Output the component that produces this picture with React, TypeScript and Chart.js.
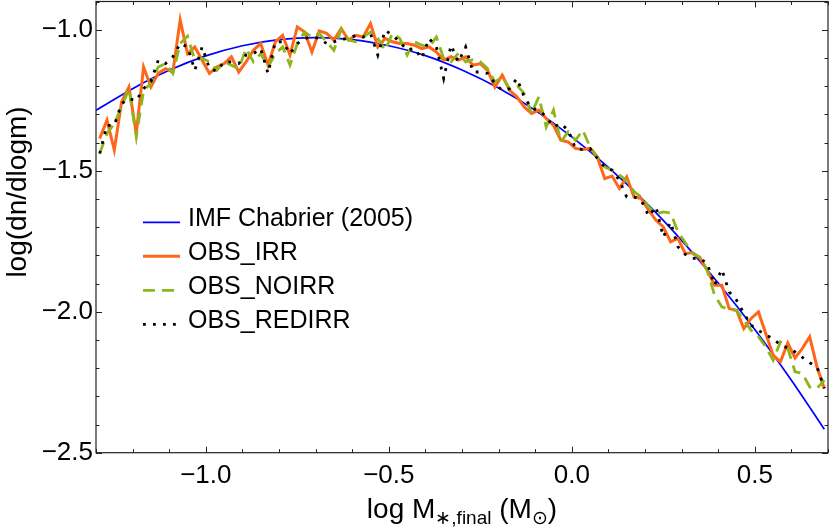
import React, { useEffect, useRef } from 'react';
import { Chart, registerables } from 'chart.js';

Chart.register(...registerables);

const FONT = '"Liberation Sans", Arial, Helvetica, sans-serif';

// bin centres of log M*,final
const massBins = [
  -1.29, -1.27, -1.25, -1.23, -1.21, -1.19, -1.17, -1.15, -1.13, -1.11,
  -1.09, -1.07, -1.05, -1.03, -1.01, -0.99, -0.97, -0.95, -0.93, -0.91,
  -0.89, -0.87, -0.85, -0.83, -0.81, -0.79, -0.77, -0.75, -0.73, -0.71,
  -0.69, -0.67, -0.65, -0.63, -0.61, -0.59, -0.57, -0.55, -0.53, -0.51,
  -0.49, -0.47, -0.45, -0.43, -0.41, -0.39, -0.37, -0.35, -0.33, -0.31,
  -0.29, -0.27, -0.25, -0.23, -0.21, -0.19, -0.17, -0.15, -0.13, -0.11,
  -0.09, -0.07, -0.05, -0.03, -0.01, 0.01, 0.03, 0.05, 0.07, 0.09,
  0.11, 0.13, 0.15, 0.17, 0.19, 0.21, 0.23, 0.25, 0.27, 0.29,
  0.31, 0.33, 0.35, 0.37, 0.39, 0.41, 0.43, 0.45, 0.47, 0.49,
  0.51, 0.53, 0.55, 0.57, 0.59, 0.61, 0.63, 0.65, 0.67, 0.69,
];

const obsIrr = [
  -1.386, -1.321, -1.427, -1.256, -1.203, -1.368, -1.132, -1.203, -1.155, -1.138,
  -1.150, -0.966, -1.085, -1.061, -1.108, -1.155, -1.132, -1.120, -1.096, -1.150,
  -1.114, -1.073, -1.049, -1.126, -1.043, -1.020, -1.090, -0.990, -1.008, -1.079,
  -1.004, -1.013, -1.037, -0.996, -1.037, -1.020, -1.026, -0.978, -1.061, -1.031,
  -1.043, -1.049, -1.049, -1.055, -1.067, -1.061, -1.079, -1.108, -1.096, -1.108,
  -1.096, -1.126, -1.120, -1.144, -1.203, -1.161, -1.215, -1.238, -1.274, -1.297,
  -1.285, -1.315, -1.339, -1.392, -1.398, -1.421, -1.425, -1.421, -1.453, -1.528,
  -1.519, -1.563, -1.522, -1.593, -1.599, -1.640, -1.676, -1.699, -1.752, -1.740,
  -1.794, -1.790, -1.810, -1.853, -1.906, -1.906, -1.989, -1.995, -2.060, -2.024,
  -2.001, -2.077, -2.154, -2.178, -2.111, -2.164, -2.130, -2.089, -2.196, -2.272,
];

const obsNoIrr = [
  -1.439, -1.368, -1.333, -1.274, -1.209, -1.380, -1.215, -1.191, -1.132, -1.120,
  -1.155, -1.049, -1.023, -1.108, -1.102, -1.114, -1.144, -1.114, -1.126, -1.138,
  -1.067, -1.114, -1.085, -1.132, -1.085, -1.061, -1.126, -1.049, -1.008, -1.026,
  -1.013, -1.043, -1.073, -0.999, -1.037, -1.043, -1.026, -1.008, -1.031, -1.073,
  -1.013, -1.031, -1.090, -1.043, -1.055, -1.061, -1.026, -1.102, -1.114, -1.084,
  -1.114, -1.106, -1.114, -1.138, -1.185, -1.167, -1.209, -1.197, -1.226, -1.297,
  -1.238, -1.345, -1.285, -1.398, -1.362, -1.392, -1.356, -1.416, -1.451, -1.487,
  -1.498, -1.516, -1.534, -1.575, -1.593, -1.628, -1.654, -1.646, -1.650, -1.717,
  -1.755, -1.794, -1.806, -1.853, -1.941, -1.983, -1.992, -1.995, -2.030, -2.066,
  -2.089, -2.125, -2.172, -2.107, -2.130, -2.213, -2.219, -2.267, -2.272, -2.243,
];

const obsRedIrr = [
  -1.439, -1.339, -1.339, -1.262, -1.244, -1.252, -1.209, -1.185, -1.108, -1.120,
  -1.096, -1.049, -1.061, -1.144, -1.061, -1.138, -1.147, -1.114, -1.114, -1.120,
  -1.090, -1.085, -1.067, -1.155, -1.043, -1.043, -1.085, -1.049, -1.031, -1.026,
  -1.031, -1.049, -1.043, -1.034, -1.031, -1.020, -1.026, -1.014, -1.090, -1.002,
  -1.020, -1.043, -1.073, -1.067, -1.102, -1.031, -1.061, -1.173, -1.055, -1.114,
  -1.061, -1.150, -1.150, -1.155, -1.191, -1.215, -1.209, -1.173, -1.238, -1.279,
  -1.285, -1.309, -1.345, -1.333, -1.356, -1.421, -1.425, -1.421, -1.457, -1.487,
  -1.498, -1.534, -1.593, -1.593, -1.605, -1.661, -1.628, -1.735, -1.682, -1.770,
  -1.797, -1.811, -1.811, -1.829, -1.906, -1.850, -1.930, -1.959, -2.006, -2.048,
  -2.066, -2.083, -2.095, -2.119, -2.128, -2.143, -2.162, -2.181, -2.196, -2.272,
];

// IMF Chabrier (2005)
const imfMass = [-1.3, -1.2, -1.1, -1.0, -0.9, -0.8, -0.7, -0.6, -0.5, -0.4, -0.3, -0.2, -0.1, 0.0, 0.1, 0.2, 0.3, 0.4, 0.5, 0.6, 0.69];
const imfChabrier = [-1.286, -1.209, -1.144, -1.093, -1.057, -1.035, -1.028, -1.035, -1.057, -1.092, -1.143, -1.207, -1.286, -1.380, -1.488, -1.610, -1.747, -1.898, -2.063, -2.243, -2.417];

const legendLabels = ['IMF Chabrier (2005)', 'OBS_IRR', 'OBS_NOIRR', 'OBS_REDIRR'];
const seriesColors = ['rgb(0,0,255)', 'rgb(255,102,26)', 'rgb(140,182,28)', 'rgb(0,0,0)'];
const seriesWidths = [1.7, 3, 2.8, 2.8];
const seriesDashes: number[][] = [[], [], [12, 7], [2.8, 7.2]];

const xMin = -1.3, xMax = 0.7, yMin = -2.5, yMax = -0.9;

function isMajor(v: number) {
  return Math.round(v * 10) % 5 === 0;
}
function fmt(v: number) {
  const t = Math.round(v * 10);
  if (t % 5 !== 0) return '';
  const a = Math.abs(t / 10).toFixed(1);
  return t < 0 ? '\u2212' + a : a;
}

const pts = (xs: number[], ys: number[]) => xs.map((x, i) => ({ x, y: ys[i] }));

const decorPlugin = {
  id: 'decor',
  afterDatasetsDraw(chart: any) {
    const { ctx } = chart;
    const { left, right, top, bottom } = chart.chartArea;
    const xs = chart.scales.x, ys = chart.scales.y;
    ctx.save();
    ctx.setLineDash([]);
    ctx.strokeStyle = '#222';
    ctx.lineWidth = 1.2;
    ctx.strokeRect(left, top, right - left, bottom - top);
    ctx.lineWidth = 1;
    ctx.beginPath();
    xs.ticks.forEach((t: any) => {
      const px = Math.round(xs.getPixelForValue(t.value)) + 0.5;
      const len = isMajor(t.value) ? 6 : 3.5;
      ctx.moveTo(px, bottom); ctx.lineTo(px, bottom - len);
      ctx.moveTo(px, top); ctx.lineTo(px, top + len);
    });
    ys.ticks.forEach((t: any) => {
      const py = Math.round(ys.getPixelForValue(t.value)) + 0.5;
      const len = isMajor(t.value) ? 6 : 3.5;
      ctx.moveTo(left, py); ctx.lineTo(left + len, py);
      ctx.moveTo(right, py); ctx.lineTo(right - len, py);
    });
    ctx.stroke();
    ctx.restore();
  },
  afterDraw(chart: any) {
    const { ctx } = chart;
    ctx.save();
    // legend
    const lineYs = [222.3, 256.3, 290.3, 324.3];
    const textYs = [226, 260, 294, 328];
    ctx.font = `25px ${FONT}`;
    ctx.fillStyle = '#000';
    ctx.textAlign = 'left';
    ctx.textBaseline = 'alphabetic';
    legendLabels.forEach((lab, i) => {
      ctx.beginPath();
      ctx.strokeStyle = seriesColors[i];
      ctx.lineWidth = seriesWidths[i];
      ctx.setLineDash(seriesDashes[i]);
      ctx.moveTo(143, lineYs[i]);
      ctx.lineTo(180, lineYs[i]);
      ctx.stroke();
      ctx.setLineDash([]);
      ctx.fillText(lab, 188, textYs[i]);
    });
    // y title
    ctx.save();
    ctx.translate(26, 192);
    ctx.rotate(-Math.PI / 2);
    ctx.font = `28px ${FONT}`;
    ctx.textAlign = 'center';
    ctx.textBaseline = 'alphabetic';
    ctx.fillText('log(dn/dlogm)', 0, 0);
    ctx.restore();
    // x title with subscripts
    const big = `28px ${FONT}`;
    const small = `19px ${FONT}`;
    const parts: [string, string, number][] = [
      ['log M', big, 0],
      ['\u2217,final', small, 6],
      [' (M', big, 0],
      ['\u2299', `19px "DejaVu Sans", ${FONT}`, 6],
      [')', big, 0],
    ];
    let total = 0;
    parts.forEach(([s, f]) => { ctx.font = f; total += ctx.measureText(s).width; });
    const { left, right } = chart.chartArea;
    let x = (left + right) / 2 - total / 2;
    const base = 518;
    ctx.textAlign = 'left';
    parts.forEach(([s, f, dy]) => {
      ctx.font = f;
      ctx.fillText(s, x, base + dy);
      x += ctx.measureText(s).width;
    });
    ctx.restore();
  },
};

export default function App() {
  const ref = useRef<HTMLCanvasElement | null>(null);
  useEffect(() => {
    document.body.style.margin = '0';
    const canvas = ref.current;
    if (!canvas) return;
    const chart = new Chart(canvas, {
      type: 'line',
      data: {
        datasets: [
          {
            label: legendLabels[3], data: pts(massBins, obsRedIrr), borderColor: seriesColors[3],
            borderWidth: seriesWidths[3], borderDash: seriesDashes[3], pointRadius: 0, tension: 0, order: 1,
          },
          {
            label: legendLabels[2], data: pts(massBins, obsNoIrr), borderColor: seriesColors[2],
            borderWidth: seriesWidths[2], borderDash: seriesDashes[2], pointRadius: 0, tension: 0, order: 2,
          },
          {
            label: legendLabels[1], data: pts(massBins, obsIrr), borderColor: seriesColors[1],
            borderWidth: seriesWidths[1], pointRadius: 0, tension: 0, order: 3,
          },
          {
            label: legendLabels[0], data: pts(imfMass, imfChabrier), borderColor: seriesColors[0],
            borderWidth: seriesWidths[0], pointRadius: 0, cubicInterpolationMode: 'monotone', order: 4,
          },
        ],
      },
      options: {
        animation: false,
        responsive: false,
        devicePixelRatio: 1,
        layout: { padding: { top: 1.5, right: 2, left: 0, bottom: 0 } },
        plugins: { legend: { display: false }, tooltip: { enabled: false } },
        scales: {
          x: {
            type: 'linear', min: xMin, max: xMax,
            grid: { display: false, drawTicks: false },
            border: { display: false },
            ticks: {
              stepSize: 0.1, autoSkip: false, maxRotation: 0, minRotation: 0, padding: 8,
              color: '#000', font: { size: 26, family: FONT },
              callback: (v: any) => fmt(Number(v)),
            },
            afterFit: (s: any) => { s.height = 75.3; s.paddingLeft = 0; s.paddingRight = 0; },
          },
          y: {
            type: 'linear', min: yMin, max: yMax,
            grid: { display: false, drawTicks: false },
            border: { display: false },
            ticks: {
              stepSize: 0.1, autoSkip: false, padding: 3,
              color: '#000', font: { size: 26, family: FONT },
              callback: (v: any) => fmt(Number(v)),
            },
            afterFit: (s: any) => { s.width = 96; s.paddingTop = 0; s.paddingBottom = 0; },
          },
        },
      },
      plugins: [decorPlugin],
    } as any);
    return () => chart.destroy();
  }, []);
  return <canvas ref={ref} width={830} height={528} style={{ display: 'block' }} />;
}
